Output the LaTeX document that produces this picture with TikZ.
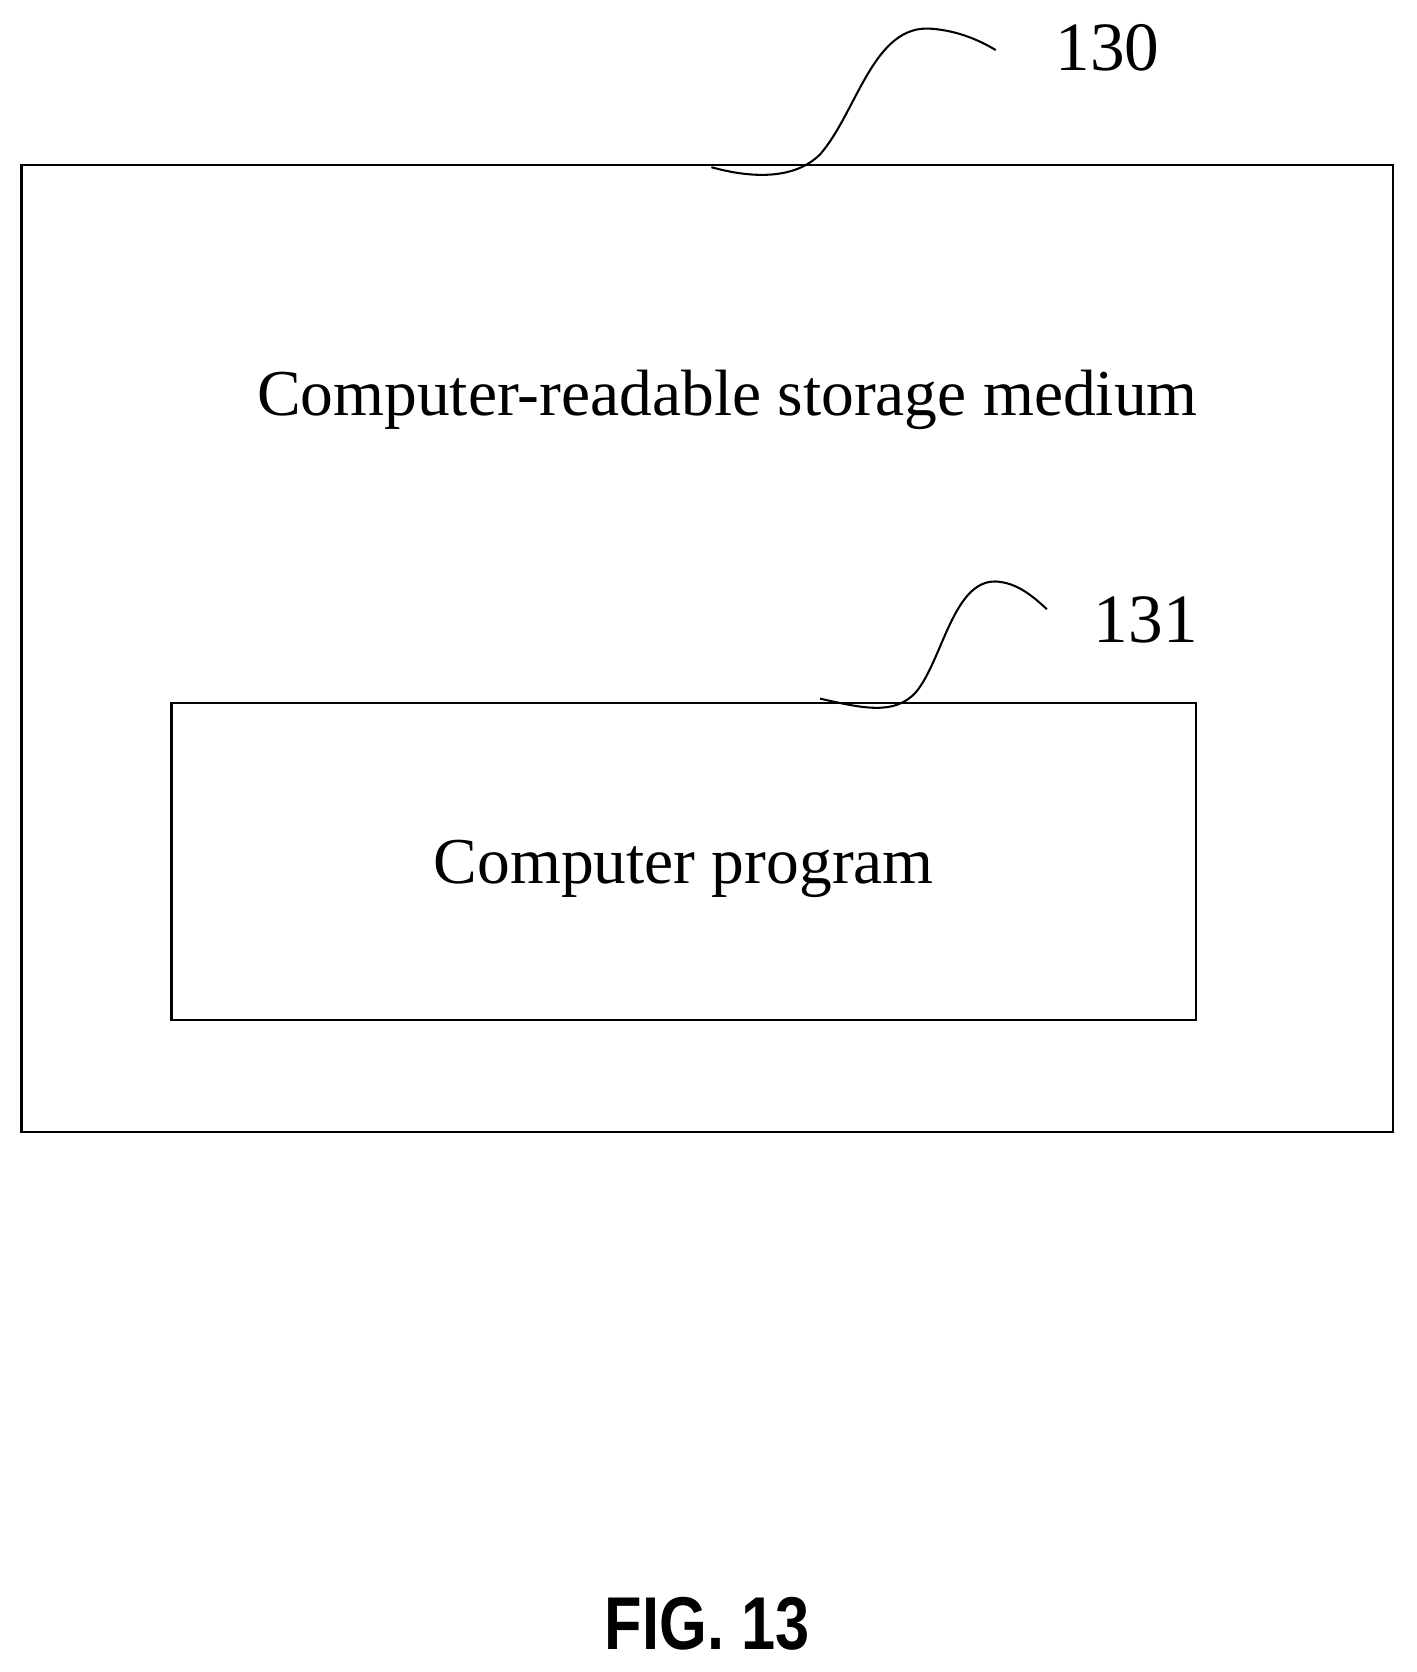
\documentclass[tikz,border=0pt]{standalone}
\usepackage{fontspec}
\setmainfont{Liberation Serif}
\newfontfamily\figfont{Liberation Sans}
\begin{document}
\begin{tikzpicture}[x=0.02cm,y=-0.02cm,line width=1.3pt,
  lbl/.style={font=\fontsize{35}{40}\selectfont},
  box/.style={draw,black}]
\useasboundingbox (0,0) rectangle (1330,1570);
\draw[box] (20,155) rectangle (1308,1063);
\draw[box] (161,660) rectangle (1123,958);
\node[lbl] (t1) at (683,375) {Computer-readable storage medium};
\node[lbl] (t2) at (642,816) {Computer program};
\node[lbl,font=\fontsize{37}{40}\selectfont] (n130) at (1040,45) {130};
\node[lbl,font=\fontsize{37}{40}\selectfont] (n131) at (1076,582) {131};
\coordinate (a0) at (668,157);
\coordinate (a1) at (935,47);
\draw[line width=1.1pt] (a0) .. controls (715,170) and (750,165) .. (770,145) .. controls (805,105) and (820,22) .. (875,27) .. controls (900,29) and (920,38) .. (a1);
\coordinate (b0) at (770,656);
\coordinate (b1) at (983,572);
\draw[line width=1.1pt] (b0) .. controls (810,665) and (840,672) .. (860,650) .. controls (885,620) and (895,545) .. (935,546) .. controls (955,547) and (970,560) .. (b1);
\node[font=\figfont\bfseries\fontsize{40}{44}\selectfont,xscale=0.82] (fig) at (664,1525) {FIG. 13};
\end{tikzpicture}
\end{document}
